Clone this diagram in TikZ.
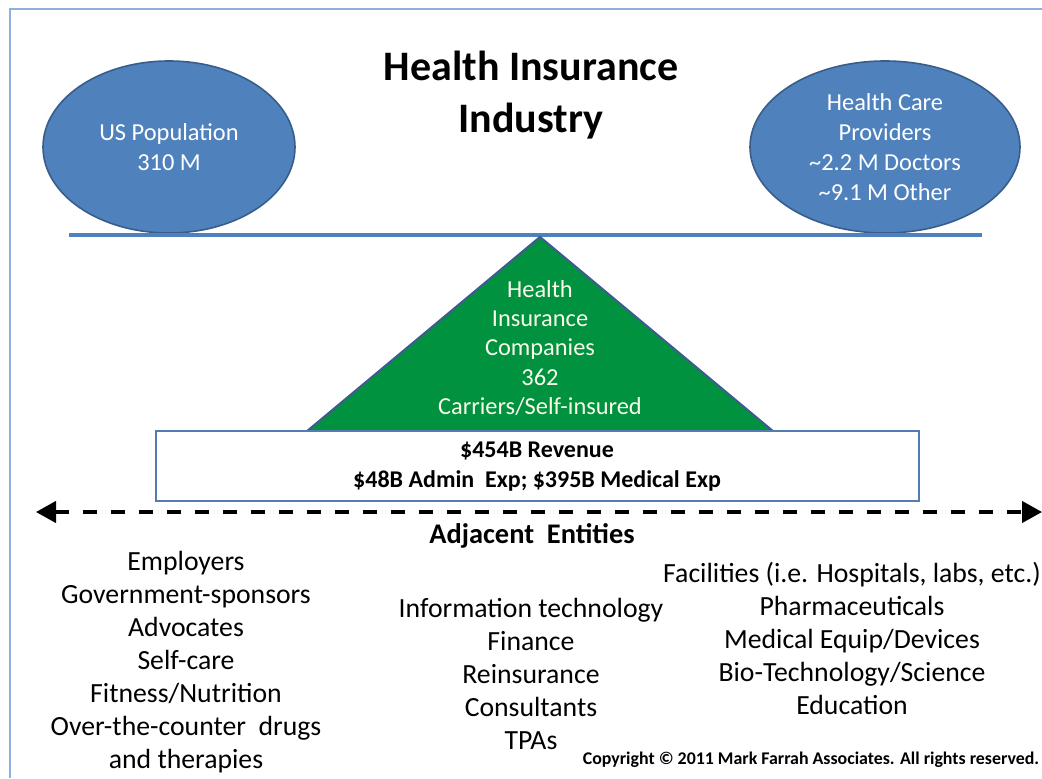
\documentclass[tikz,border=0pt]{standalone}
\usepackage{fontspec}
\setmainfont{Carlito}
\usetikzlibrary{shapes.geometric,arrows.meta}
\definecolor{ovalblue}{RGB}{79,129,189}
\definecolor{ovaledge}{RGB}{56,93,138}
\definecolor{framecol}{RGB}{141,176,222}
\definecolor{insgreen}{RGB}{0,146,63}
\definecolor{triedge}{RGB}{59,94,140}
\definecolor{boxedge}{RGB}{86,122,178}
\definecolor{palefont}{RGB}{250,250,235}
\tikzset{
  oval/.style={ellipse, fill=ovalblue, draw=ovaledge, line width=1.2pt,
    text=white, align=center, inner sep=0pt,
    font=\fontsize{18.3}{22.5}\selectfont},
  listtext/.style={align=center, font=\fontsize{20.8}{24.75}\selectfont},
  framestroke/.style={draw=framecol, line width=1.5pt},
}
\begin{document}
\begin{tikzpicture}[x=0.75pt, y=-0.75pt]
  \useasboundingbox (0,0) rectangle (1042,778);
  \fill[white] (0,0) rectangle (1042,778);

  % outer frame (left and top edges)
  \coordinate (fbl) at (10,778);
  \coordinate (ftl) at (10,9);
  \coordinate (ftr) at (1042,9);
  \draw[framestroke] (fbl) -- (ftl) -- (ftr);

  % title
  \node[align=center, font=\fontsize{31.5}{39}\selectfont\bfseries] (title) at (531,95)
    {Health Insurance\\Industry};

  % the two ovals resting on the beam
  \node[oval, minimum width=252*0.75pt, minimum height=172*0.75pt] (pop) at (169,147)
    {US Population\\310 M};
  \node[oval, minimum width=270*0.75pt, minimum height=172*0.75pt] (prov) at (885,147)
    {Health Care\\Providers\\\textasciitilde 2.2 M Doctors\\\textasciitilde 9.1 M Other};

  % beam
  \coordinate (beamL) at (69,235);
  \coordinate (beamR) at (982,235);
  \draw[ovalblue, line width=2.4pt] (beamL) -- (beamR);

  % fulcrum triangle
  \coordinate (apex) at (540,237);
  \coordinate (baseL) at (300,437);
  \coordinate (baseR) at (780,437);
  \draw[fill=insgreen, draw=triedge, line width=1.6pt, line join=miter] (baseL) -- (apex) -- (baseR) -- cycle;
  \node[align=center, text=palefont, font=\fontsize{18.3}{22.1}\selectfont] (ins) at (540,348)
    {Health\\Insurance\\Companies\\362\\Carriers/Self-insured};

  % financial box
  \node[draw=boxedge, fill=white, line width=1.3pt, minimum width=763*0.75pt,
        minimum height=70*0.75pt, inner sep=0pt] (fin) at (537.5,466) {};
  \node[align=center, font=\fontsize{18}{22.5}\selectfont\bfseries] (fintext) at (537,466.5)
    {\$454B Revenue\\\$48B Admin~ Exp; \$395B Medical Exp};

  % dashed double arrow
  \coordinate (arrL) at (36,512);
  \coordinate (arrR) at (1042,512);
  \draw[line width=2.4pt, dash pattern=on 10.5pt off 10.5pt,
        {Triangle[length=15pt,width=16pt]}-{Triangle[length=15pt,width=16pt]}] (arrL) -- (arrR);

  % adjacent entities
  \node[font=\fontsize{21.3}{24}\selectfont\bfseries] (adj) at (532,536) {Adjacent~ Entities};

  \node[listtext] (colL) at (186,662)
    {Employers\\Government-sponsors\\Advocates\\Self-care\\Fitness/Nutrition\\Over-the-counter~ drugs\\and therapies};
  \node[listtext] (colM) at (531,673.5)
    {Information technology\\Finance\\Reinsurance\\Consultants\\TPAs};
  \node[listtext] (colR) at (852,638.5)
    {Facilities (i.e. Hospitals, labs, etc.)\\Pharmaceuticals\\Medical Equip/Devices\\Bio-Technology/Science\\Education};

  \node[font=\fontsize{13.4}{15}\selectfont\bfseries] (copy) at (811,760)
    {Copyright \textcopyright{} 2011 Mark Farrah Associates. All rights reserved.};
\end{tikzpicture}
\end{document}
